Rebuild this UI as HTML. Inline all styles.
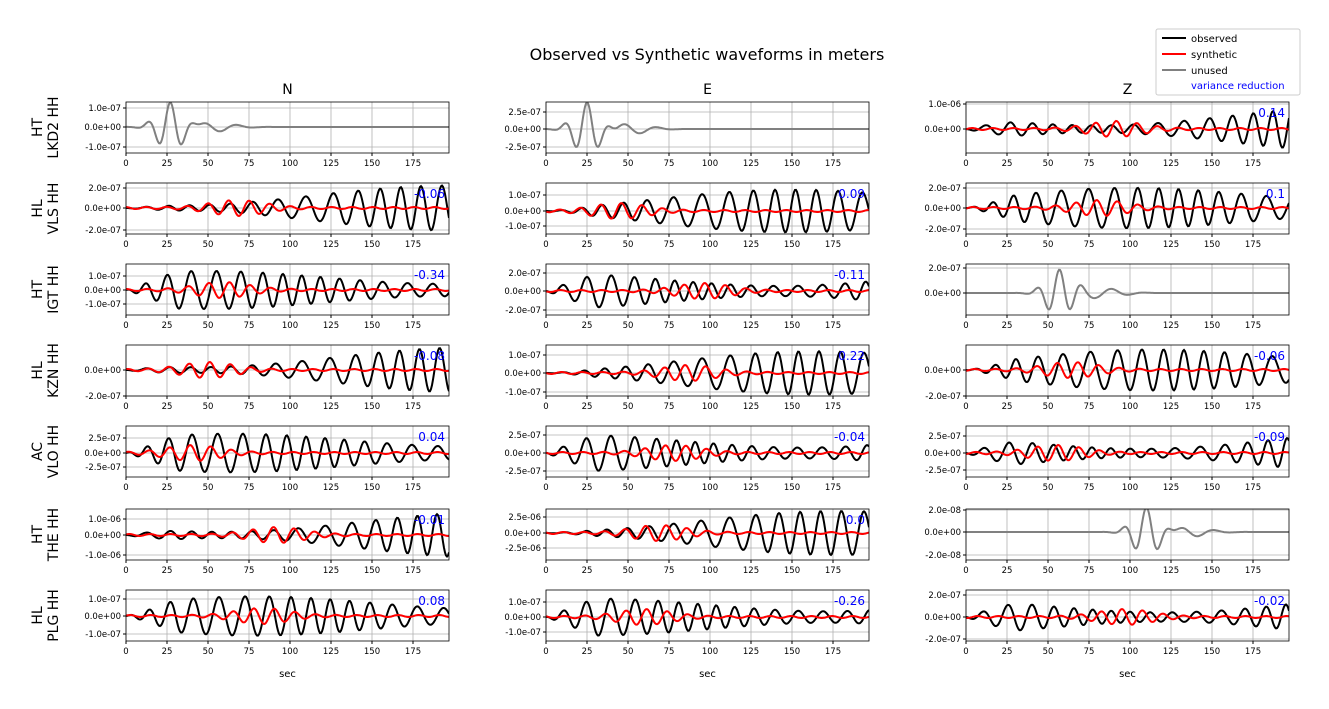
<!DOCTYPE html>
<html><head><meta charset="utf-8"><style>body{margin:0;background:#fff}svg{display:block;font-family:"DejaVu Sans","Liberation Sans",sans-serif}</style></head>
<body><svg id="s" width="1329" height="709" xmlns="http://www.w3.org/2000/svg"></svg>
<script>
const S=document.getElementById('s');let h='';
h+='<text x="707" y="60" font-size="16" text-anchor="middle">Observed vs Synthetic waveforms in meters</text>';
h+='<rect x="1156" y="29" width="144" height="66" fill="#fff" stroke="#ccc" rx="2"/>';
[['observed','#000',38],['synthetic','#f00',54],['unused','#808080',70]].forEach(l=>{h+=`<line x1="1162" x2="1186" y1="${l[2]}" y2="${l[2]}" stroke="${l[1]}" stroke-width="2"/><text x="1191" y="${l[2]+4}" font-size="10">${l[0]}</text>`});
h+='<text x="1191" y="89" font-size="10" fill="blue">variance reduction</text>';
const cols=[126,546,966],W=323,tops=[102,183,264,345,426,509,590],H=51;
['N','E','Z'].forEach((c,i)=>h+=`<text x="${cols[i]+W/2}" y="94" font-size="14" text-anchor="middle">${c}</text>`);
const names=[['HT','LKD2 HH'],['HL','VLS HH'],['HT','IGT HH'],['HL','KZN HH'],['AC','VLO HH'],['HT','THE HH'],['HL','PLG HH']];
const T={
'0,0':[['1.0e-07',108],['0.0e+00',127],['-1.0e-07',147]],'0,1':[['2.5e-07',112],['0.0e+00',129],['-2.5e-07',147]],'0,2':[['1.0e-06',104],['0.0e+00',129]],
'1,0':[['2.0e-07',188],['0.0e+00',208],['-2.0e-07',230]],'1,1':[['1.0e-07',195],['0.0e+00',211],['-1.0e-07',226]],'1,2':[['2.0e-07',188],['0.0e+00',208],['-2.0e-07',229]],
'2,0':[['1.0e-07',276],['0.0e+00',290],['-1.0e-07',304]],'2,1':[['2.0e-07',273],['0.0e+00',291],['-2.0e-07',310]],'2,2':[['2.0e-07',268],['0.0e+00',293]],
'3,0':[['0.0e+00',370],['-2.0e-07',396]],'3,1':[['1.0e-07',355],['0.0e+00',373],['-1.0e-07',392]],'3,2':[['0.0e+00',370],['-2.0e-07',396]],
'4,0':[['2.5e-07',438],['0.0e+00',453],['-2.5e-07',467]],'4,1':[['2.5e-07',435],['0.0e+00',453],['-2.5e-07',471]],'4,2':[['2.5e-07',436],['0.0e+00',453],['-2.5e-07',470]],
'5,0':[['1.0e-06',519],['0.0e+00',535],['-1.0e-06',555]],'5,1':[['2.5e-06',517],['0.0e+00',533],['-2.5e-06',548]],'5,2':[['2.0e-08',510],['0.0e+00',532],['-2.0e-08',555]],
'6,0':[['1.0e-07',599],['0.0e+00',616],['-1.0e-07',634]],'6,1':[['1.0e-07',602],['0.0e+00',617],['-1.0e-07',632]],'6,2':[['2.0e-07',595],['0.0e+00',617],['-2.0e-07',639]]};
const VR={'0,2':'0.14','1,0':'-0.06','1,1':'0.09','1,2':'0.1','2,0':'-0.34','2,1':'-0.11','3,0':'-0.08','3,1':'0.22','3,2':'-0.06','4,0':'0.04','4,1':'-0.04','4,2':'-0.09','5,0':'-0.01','5,1':'0.0','6,0':'0.08','6,1':'-0.26','6,2':'-0.02'};
const unused={'0,0':[27,24],'0,1':[25,26],'2,2':[57,24],'5,2':[110,24]};
const px=1.64;
for(let r=0;r<7;r++)for(let c=0;c<3;c++){
const k=r+','+c,x0=cols[c],y0=tops[r],t=T[k],z=t.find(a=>a[0]=='0.0e+00')[1];
h+=`<clipPath id="c${r}${c}"><rect x="${x0}" y="${y0}" width="${W}" height="${H}"/></clipPath>`;
for(let s=0;s<=175;s+=25){const X=x0+s*px;h+=`<line x1="${X}" x2="${X}" y1="${y0}" y2="${y0+H}" stroke="#b0b0b0" stroke-width="0.8"/><line x1="${X}" x2="${X}" y1="${y0+H}" y2="${y0+H+3}" stroke="#000"/><text x="${X}" y="${y0+H+13}" font-size="8.5" text-anchor="middle">${s}</text>`}
t.forEach(a=>{h+=`<line x1="${x0}" x2="${x0+W}" y1="${a[1]}" y2="${a[1]}" stroke="#b0b0b0" stroke-width="0.8"/><line x1="${x0-3}" x2="${x0}" y1="${a[1]}" y2="${a[1]}" stroke="#000"/><text x="${x0-5}" y="${a[1]+3}" font-size="8.5" text-anchor="end">${a[0]}</text>`});
const seed=r*3+c+1;let ob='',sy='';
for(let i=0;i<=W;i++){const s=i/px;
if(unused[k]){const [m,a]=unused[k];const d=s-m;const v=a*Math.exp(-d*d/120)*Math.cos(d*0.45)+a*0.2*Math.exp(-(s-m-25)*(s-m-25)/300)*Math.sin(s*0.3);ob+=(i?'L':'M')+(x0+i)+','+(z-v).toFixed(1)}
else{const env=Math.min(1,s/30)*(0.55+0.45*Math.sin(s*0.02+seed)+0.25*s/197)*18;
const v=env*Math.sin(s*(0.46+0.03*Math.sin(seed))+seed+Math.sin(s*0.05+seed)*1.5);
ob+=(i?'L':'M')+(x0+i)+','+(z-v).toFixed(1);
const ce=40+((seed*37)%60),e2=7*Math.exp(-(s-ce)*(s-ce)/500)+1;
const w=e2*Math.sin(s*0.5+seed*2);sy+=(i?'L':'M')+(x0+i)+','+(z-w).toFixed(1)}}
h+=`<g clip-path="url(#c${r}${c})"><path d="${ob}" fill="none" stroke="${unused[k]?'#808080':'#000'}" stroke-width="2"/>`+(sy?`<path d="${sy}" fill="none" stroke="#f00" stroke-width="2"/>`:'')+'</g>';
h+=`<rect x="${x0}" y="${y0}" width="${W}" height="${H}" fill="none" stroke="#000" stroke-width="0.8"/>`;
if(VR[k])h+=`<text x="${x0+W-4}" y="${y0+15}" font-size="12" fill="blue" text-anchor="end">${VR[k]}</text>`;
if(c==0){const cy=y0+H/2;h+=`<text transform="translate(42,${cy}) rotate(-90)" font-size="14" text-anchor="middle">${names[r][0]}</text><text transform="translate(58,${cy}) rotate(-90)" font-size="14" text-anchor="middle">${names[r][1]}</text>`}
if(r==6)h+=`<text x="${x0+W/2}" y="677" font-size="10" text-anchor="middle">sec</text>`;
}
S.innerHTML=h;
</script></body></html>
